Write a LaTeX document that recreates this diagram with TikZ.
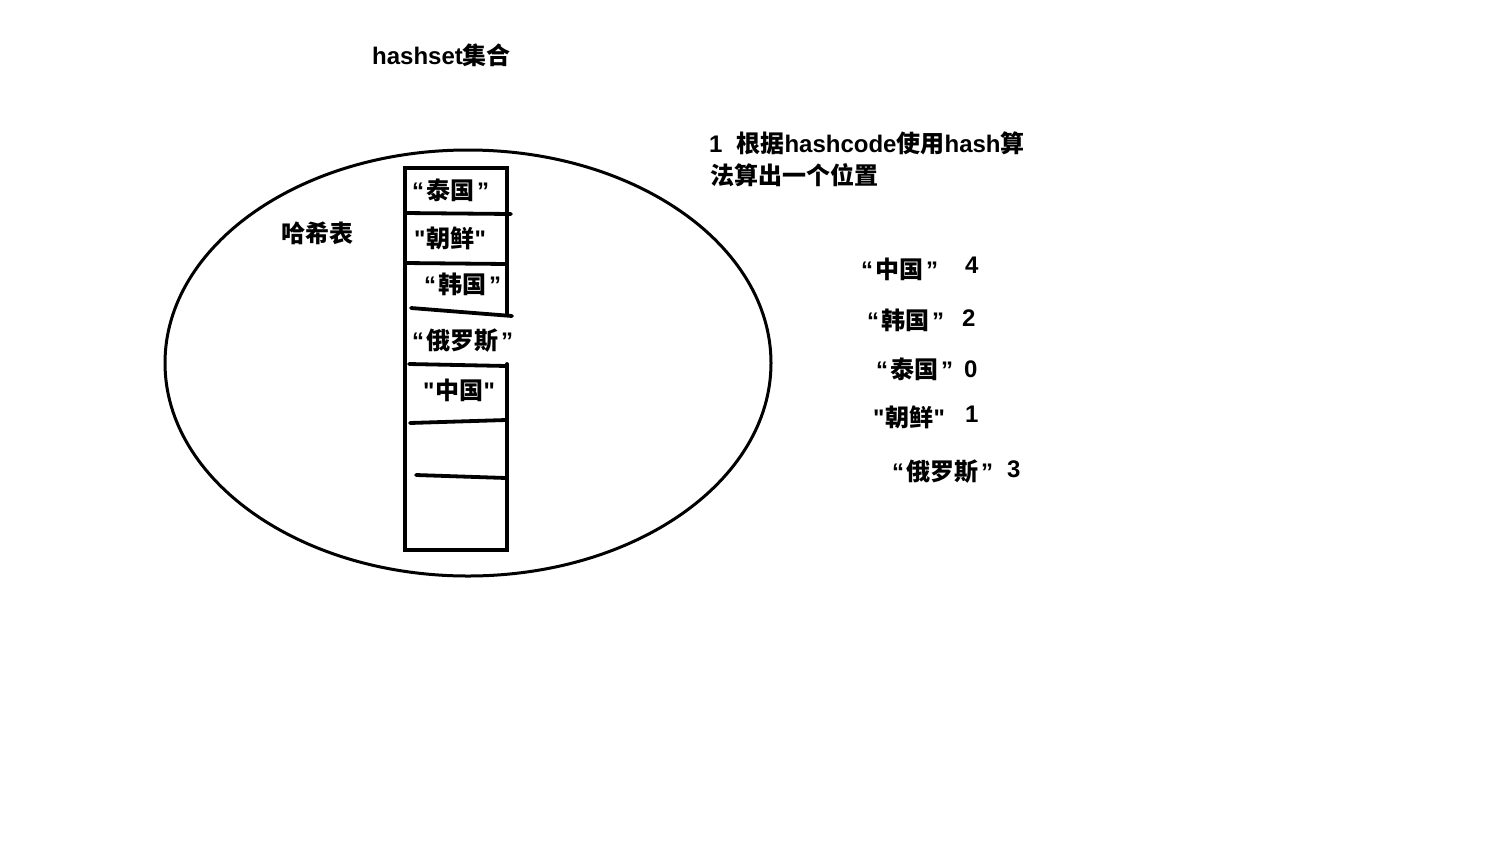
\documentclass[tikz,border=0pt]{standalone}
\usepackage{fontspec}
\newfontfamily\lat{Liberation Sans}
\newfontfamily\cjk{Noto Sans CJK SC}
\newcommand\zh[1]{{\cjk #1}}
\newcommand\cq[1]{“\hspace{2.5pt}\zh{#1}\hspace{2.5pt}”}
\newcommand\sq[1]{"\hspace{0.5pt}\zh{#1}\hspace{0.5pt}"}
\begin{document}
\begin{tikzpicture}[x=1pt,y=-1pt,
  lbl/.style={anchor=west,inner sep=0pt,font=\lat\bfseries\fontsize{24}{26}\selectfont},
  edge/.style={line width=3.8pt,line cap=round},
  ring/.style={line width=3pt}]
\useasboundingbox[fill=white] (0,0) rectangle (1495,852);
% ellipse
\draw[ring] (468,363) ellipse [x radius=303,y radius=213];
% column
\draw[edge] (507,315) -- (507,168) -- (405,168) -- (405,550) -- (507,550) -- (507,364);
\draw[edge] (405,213) -- (511,214);
\draw[edge] (405,263) -- (507,264);
\draw[edge] (411,308) -- (512,316);
\draw[edge] (409,364) -- (507,366);
\draw[edge] (410,423) -- (506,420);
\draw[edge] (416,475) -- (506,478);
% labels
\node[lbl] (title) at (372,55) {hashset\zh{集合}};
\node[lbl] (tbl) at (281,233) {\zh{哈希表}};
\node[lbl] (c0) at (412,190) {\cq{泰国}};
\node[lbl] (c1) at (414,238) {\sq{朝鲜}};
\node[lbl] (c2) at (424,284) {\cq{韩国}};
\node[lbl] (c3) at (412,341) {\cq{俄罗斯}};
\node[lbl] (c4) at (423,390) {\sq{中国}};
\node[lbl] (s1) at (709,143) {1\hspace{14pt}\zh{根据}hashcode\zh{使用}hash\zh{算}};
\node[lbl] (s2) at (710,175) {\zh{法算出一个位置}};
\node[lbl] (k1) at (861,269) {\cq{中国}};
\node[lbl] (v1) at (965,265) {4};
\node[lbl] (k2) at (867,320) {\cq{韩国}};
\node[lbl] (v2) at (962,318) {2};
\node[lbl] (k3) at (876,369) {\cq{泰国}};
\node[lbl] (v3) at (964,369) {0};
\node[lbl] (k4) at (873,417) {\sq{朝鲜}};
\node[lbl] (v4) at (965,414) {1};
\node[lbl] (k5) at (892,472) {\cq{俄罗斯}};
\node[lbl] (v5) at (1007,469) {3};
\end{tikzpicture}
\end{document}
